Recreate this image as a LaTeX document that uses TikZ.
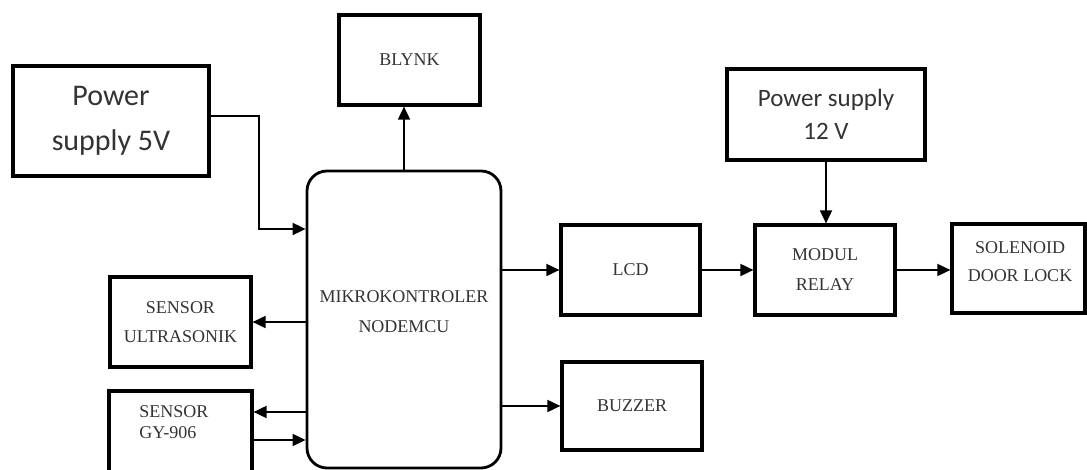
\documentclass[tikz,border=0pt]{standalone}
\usepackage{fontspec}
\setmainfont{Liberation Serif}
\newfontfamily\sansfont{Carlito}
\usetikzlibrary{arrows.meta,positioning}

\begin{document}
\begin{tikzpicture}[x=1pt,y=1pt,thick,
	blok/.style={draw, line width=3.2pt, inner sep=0pt,
			minimum width=140pt, minimum height=90pt,
			align=center, text=black!80,
			font=\fontsize{18}{30}\selectfont},
	psu/.style={blok, font=\sansfont\fontsize{25}{33}\selectfont},
	label text/.style={inner sep=0pt, align=center, text=black!80,
			font=\fontsize{18}{30}\selectfont},
	panah/.style={line width=1.8pt, -{Triangle[length=13pt,width=12pt]}}]

\useasboundingbox (0,0) rectangle (1087,470);

\pgfmathsetmacro{\mcux}{404}
\pgfmathsetmacro{\mcuy}{150.5}

% POWER SUPPLY 5V
\node(ps5)[psu, 
			font=\sansfont\fontsize{30}{45}\selectfont,
			minimum width=196pt, 
			minimum height=110pt]  at (111,349)   {Power\\supply 5V};

% BLYNK
\node(blynk)[blok, minimum width=141pt]  at (409.5,410)   {BLYNK};

% NODEMCU
\node(mcu)[draw, line width=2.8pt, 
			rounded corners=20pt,
			minimum width=194pt, 
			minimum height=297pt]  at (\mcux,\mcuy)   {};
\node(mcutxt)[label text]  at (\mcux,\mcuy+7.5)   {MIKROKONTROLER\\NODEMCU};

% SENSORS
\node(ultra)[blok, minimum width=141pt,
			font=\fontsize{18}{29}\selectfont]  at (180.5,148)   {SENSOR\\ULTRASONIK};
\node(gy)[blok, minimum width=143pt]  at (180.5,34)   {};
\node(gytxt)[label text, align=left, anchor=west,
			font=\fontsize{18}{21}\selectfont]  at (139,48)   {SENSOR\\GY-906};

% OUTPUTS
\node(lcd)[blok, minimum width=139pt]  at (630.5,200)   {LCD};
\node(relay)[blok]  at (825,200)   {MODUL\\RELAY};
\node(sol)[blok, minimum width=133pt, minimum height=89pt]  at (1018.5,201.5)   {};
\node(soltxt)[label text, font=\fontsize{18}{28}\selectfont]  at (1020,208)   {SOLENOID\\DOOR LOCK};
\node(buzzer)[blok, minimum height=88pt]  at (632,64)   {BUZZER};

% POWER SUPPLY 12V
\node(ps12)[psu, 
			minimum width=198pt, 
			minimum height=91pt]  at (826,355.5)   {Power supply\\12 V};

% ARROWS
\draw[panah] ([yshift=5pt]ps5.east) -| ([xshift=-47pt,yshift=90.5pt]mcu.west) -- ([yshift=90.5pt]mcu.west);
\draw[panah] (mcu.north) -- (mcu.north |- blynk.south);
\draw[panah] (mcu.west |- ultra.east) -- (ultra.east);

\coordinate (gyA) at ([yshift=24pt]gy.east);
\coordinate (gyB) at ([yshift=-4pt]gy.east);
\draw[panah] (mcu.west |- gyA) -- (gyA);
\draw[panah] (gyB) -- (gyB -| mcu.west);

\draw[panah] (mcu.east |- lcd.west) -- (lcd.west);
\draw[panah] (lcd) -- (relay);
\draw[panah] (relay.east) -- (relay.east -| sol.west);
\draw[panah] (ps12.south) -- (ps12.south |- relay.north);
\draw[panah] (mcu.east |- buzzer.west) -- (buzzer.west);

\end{tikzpicture}
\end{document}
